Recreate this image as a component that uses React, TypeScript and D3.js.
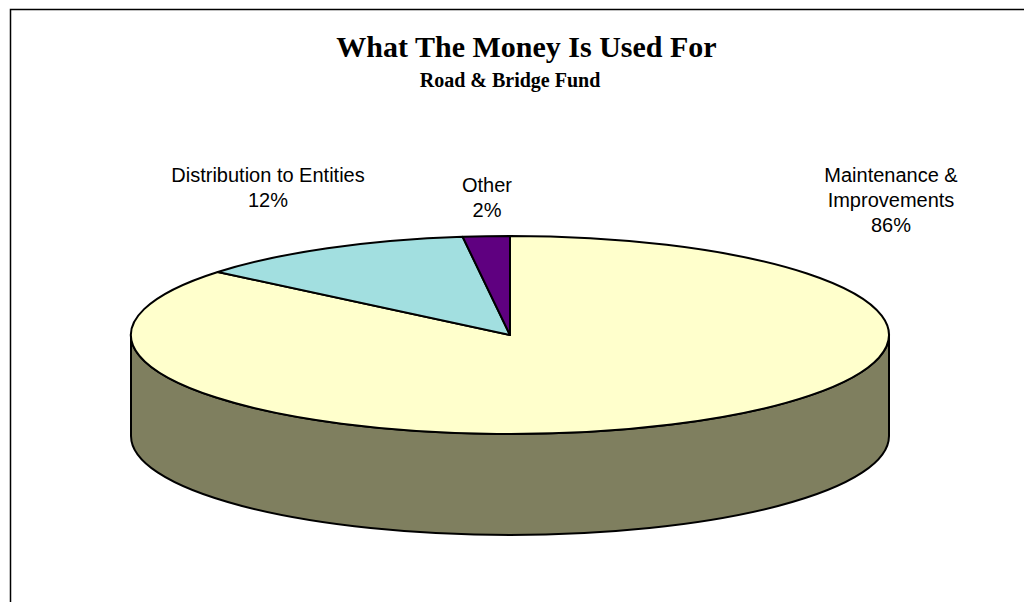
import React from "react";
import * as d3 from "d3";

const categories = ["Maintenance & Improvements", "Distribution to Entities", "Other"];
const values = [86, 12, 2];
const colors = ["#FFFFCC", "#A2DFE0", "#5F0080"];
const labelLines = [["Maintenance &", "Improvements", "86%"], ["Distribution to Entities", "12%"], ["Other", "2%"]];
const labelPos = [[891, 182], [268, 182], [487, 192]];

const W = 1024, H = 602;
const cx = 510, cy = 335, rx = 379, ry = 99, depth = 101;
const sideColor = "#7F7F5F";

export default function App() {
  const pie = d3.pie<number>().sort(null).value((d) => d);
  const arcs = pie(values);
  const arc = d3.arc<d3.PieArcDatum<number>>().innerRadius(0).outerRadius(1);
  const sidePath = `M${cx - rx},${cy} L${cx - rx},${cy + depth} A${rx},${ry} 0 0 0 ${cx + rx},${cy + depth} L${cx + rx},${cy} A${rx},${ry} 0 0 1 ${cx - rx},${cy} Z`;
  return (
    <svg width={W} height={H} style={{ position: "absolute", left: 0, top: 0, background: "#fff" }}>
      <rect x={10.5} y={9.5} width={1100} height={700} fill="#fff" stroke="#000" strokeWidth={1.5} />
      <text x={526.5} y={57} textAnchor="middle" fontFamily="'Liberation Serif', 'Times New Roman', serif" fontWeight="bold" fontSize={30}>What The Money Is Used For</text>
      <text x={510} y={87} textAnchor="middle" fontFamily="'Liberation Serif', 'Times New Roman', serif" fontWeight="bold" fontSize={20}>Road &amp; Bridge Fund</text>
      <path d={sidePath} fill={sideColor} stroke="#000" strokeWidth={2} strokeLinejoin="round" />
      <g transform={`translate(${cx},${cy}) scale(${rx},${ry})`}>
        {arcs.map((a, i) => (
          <path key={categories[i]} d={arc(a) || ""} fill={colors[i]} stroke="#000" strokeWidth={2} vectorEffect="non-scaling-stroke" strokeLinejoin="round" />
        ))}
      </g>
      {labelLines.map((lines, i) => (
        <text key={categories[i]} x={labelPos[i][0]} y={labelPos[i][1]} textAnchor="middle" fontFamily="'Liberation Sans', Arial, sans-serif" fontSize={20} fill="#000">
          {lines.map((l, j) => (
            <tspan key={j} x={labelPos[i][0]} dy={j === 0 ? 0 : 25}>{l}</tspan>
          ))}
        </text>
      ))}
    </svg>
  );
}
